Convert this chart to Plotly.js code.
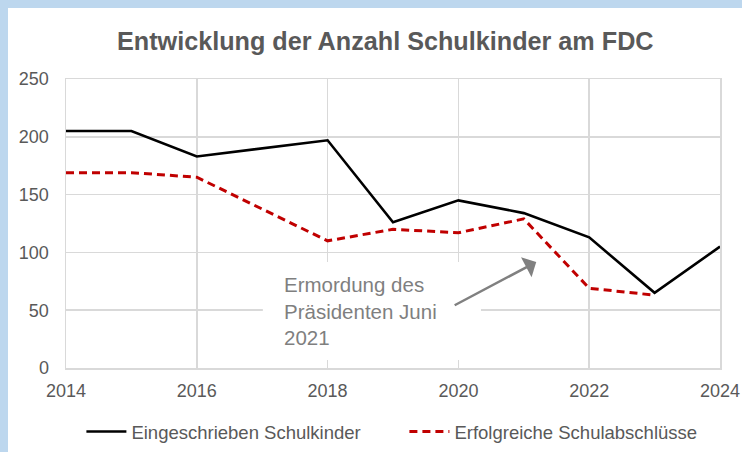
<!DOCTYPE html>
<html>
<head>
<meta charset="utf-8">
<script src="https://cdn.plot.ly/plotly-3.0.1.min.js"></script>
<style>
  html, body { margin: 0; padding: 0; background: #BDD7EE; width: 742px; height: 452px; overflow: hidden; }
  #chart { position: absolute; left: 8px; top: 8px; width: 734px; height: 444px; background: #ffffff; }
</style>
</head>
<body>
<div id="chart"></div>
<script>
const chartTitle = 'Entwicklung der Anzahl Schulkinder am FDC';
const yearsEnrolled = [2014, 2015, 2016, 2018, 2019, 2020, 2021, 2022, 2023, 2024];
const enrolled = [205, 205, 183, 197, 126, 145, 134, 113, 65, 105];
const yearsGraduated = [2014, 2015, 2016, 2018, 2019, 2020, 2021, 2022, 2023];
const graduated = [169, 169, 165, 110, 120, 117, 129, 69, 63];
const seriesNames = ['Eingeschrieben Schulkinder', 'Erfolgreiche Schulabschlüsse'];
const xTicks = [2014, 2016, 2018, 2020, 2022, 2024];
const yTicks = [0, 50, 100, 150, 200, 250];
const noteText = 'Ermordung des<br>Präsidenten Juni<br>2021';

const FONT = 'Liberation Sans, Arial, sans-serif';
const GRID = '#d9d9d9';
const TXT = '#595959';

const traces = [
  { x: yearsEnrolled, y: enrolled, name: seriesNames[0], type: 'scatter', mode: 'lines',
    line: { color: '#000000', width: 2.6 }, hoverinfo: 'skip' },
  { x: yearsGraduated, y: graduated, name: seriesNames[1], type: 'scatter', mode: 'lines',
    line: { color: '#C00000', width: 3, dash: '8px,5px' }, hoverinfo: 'skip' }
];

const layout = {
  width: 734, height: 444,
  margin: { l: 58, r: 22, t: 71, b: 84, autoexpand: false },
  paper_bgcolor: '#ffffff', plot_bgcolor: '#ffffff',
  font: { family: FONT, color: TXT },
  title: { text: chartTitle, font: { family: FONT, size: 25.2, color: TXT, weight: 'bold' },
           xref: 'container', yref: 'container', x: 0.514, y: 0.925, xanchor: 'center', yanchor: 'middle' },
  xaxis: {
    range: [2014, 2024], tickmode: 'array', tickvals: xTicks, ticktext: xTicks.map(String),
    showgrid: true, gridcolor: GRID, gridwidth: 1.5,
    showline: true, linecolor: GRID, linewidth: 1.5, mirror: true,
    zeroline: false, ticks: '', ticklabelstandoff: 6,
    tickfont: { family: FONT, size: 18, color: TXT }, fixedrange: true
  },
  yaxis: {
    range: [0, 250], tickmode: 'array', tickvals: yTicks, ticktext: yTicks.map(String),
    showgrid: true, gridcolor: GRID, gridwidth: 1.5,
    showline: true, linecolor: GRID, linewidth: 1.5, mirror: true,
    zeroline: false, ticks: '', ticklabelstandoff: 12,
    tickfont: { family: FONT, size: 18, color: TXT }, fixedrange: true
  },
  legend: {
    orientation: 'h', xref: 'container', yref: 'container',
    x: 0.1, xanchor: 'left', y: 0.045, yanchor: 'middle',
    font: { family: FONT, size: 18.5, color: TXT }, itemwidth: 40,
    entrywidth: 268, entrywidthmode: 'pixels',
    bgcolor: 'rgba(0,0,0,0)'
  },
  shapes: [
    { type: 'rect', xref: 'x', yref: 'y', layer: 'between',
      x0: 2017.01, x1: 2020.345, y0: 7, y1: 91.7,
      fillcolor: '#ffffff', line: { width: 0 } }
  ],
  annotations: [
    { xref: 'x', yref: 'y', x: 2017.30, y: 49.7, xanchor: 'left', yanchor: 'middle',
      text: noteText, align: 'left', showarrow: false,
      font: { family: FONT, size: 20.5, color: '#7f7f7f' } },
    { xref: 'x', yref: 'y', axref: 'x', ayref: 'y',
      x: 2021.19, y: 91.7, ax: 2019.92, ay: 53.6, text: '',
      showarrow: true, arrowhead: 1, arrowsize: 1.5, arrowwidth: 2.5, arrowcolor: '#808080',
      standoff: 0, startstandoff: 0 }
  ],
  showlegend: true
};

Plotly.newPlot('chart', traces, layout, { staticPlot: true, displayModeBar: false });
</script>
</body>
</html>
